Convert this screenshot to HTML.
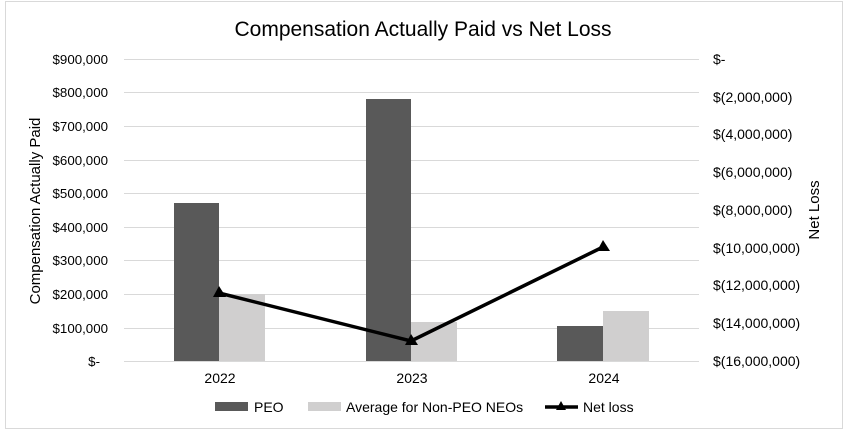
<!DOCTYPE html>
<html><head><style>body{margin:0;background:#fff}svg{display:block}</style></head><body>
<svg width="844" height="432" xmlns="http://www.w3.org/2000/svg" font-family="Liberation Sans, Arial, sans-serif">
<rect x="0" y="0" width="844" height="432" fill="#fff"/>
<rect x="5.5" y="1.5" width="837" height="427" fill="none" stroke="#d9d9d9"/>
<text x="423" y="36" font-size="21" text-anchor="middle" fill="#000">Compensation Actually Paid vs Net Loss</text>
<g stroke="#d9d9d9" stroke-width="1">
<line x1="124" x2="699" y1="59.5" y2="59.5"/><line x1="124" x2="699" y1="92.5" y2="92.5"/>
<line x1="124" x2="699" y1="126.5" y2="126.5"/><line x1="124" x2="699" y1="160.5" y2="160.5"/>
<line x1="124" x2="699" y1="193.5" y2="193.5"/><line x1="124" x2="699" y1="227.5" y2="227.5"/>
<line x1="124" x2="699" y1="260.5" y2="260.5"/><line x1="124" x2="699" y1="294.5" y2="294.5"/>
<line x1="124" x2="699" y1="328.5" y2="328.5"/><line x1="124" x2="699" y1="361.5" y2="361.5"/>
</g>
<g font-size="13.3" fill="#000" text-anchor="end">
<text x="108" y="64">$900,000</text><text x="108" y="97">$800,000</text><text x="108" y="131">$700,000</text>
<text x="108" y="165">$600,000</text><text x="108" y="198">$500,000</text><text x="108" y="232">$400,000</text>
<text x="108" y="265">$300,000</text><text x="108" y="299">$200,000</text><text x="108" y="333">$100,000</text>
<text x="100" y="366">$-</text>
</g>
<g font-size="14" fill="#000">
<text x="713" y="64">$-</text><text x="713" y="102">$(2,000,000)</text><text x="713" y="139">$(4,000,000)</text>
<text x="713" y="177">$(6,000,000)</text><text x="713" y="215">$(8,000,000)</text><text x="713" y="253">$(10,000,000)</text>
<text x="713" y="290">$(12,000,000)</text><text x="713" y="328">$(14,000,000)</text><text x="713" y="366">$(16,000,000)</text>
</g>
<text transform="translate(40,211) rotate(-90)" font-size="15" text-anchor="middle">Compensation Actually Paid</text>
<text transform="translate(819,210) rotate(-90)" font-size="15" text-anchor="middle">Net Loss</text>
<g fill="#595959">
<rect x="174" y="203" width="45" height="158"/><rect x="366" y="99" width="45" height="262"/><rect x="557" y="326" width="46" height="35"/>
</g>
<g fill="#d0cfcf">
<rect x="219" y="294" width="46" height="67"/><rect x="411" y="322" width="46" height="39"/><rect x="603" y="311" width="46" height="50"/>
</g>
<polyline points="219,293 411,341 603,247" fill="none" stroke="#000" stroke-width="3.5"/>
<g fill="#000">
<polygon points="219,286 213,297 226,297"/><polygon points="411,334 405,345 418,345"/><polygon points="603,240 597,251 610,251"/>
</g>
<g font-size="14" text-anchor="middle"><text x="220" y="383">2022</text><text x="412" y="383">2023</text><text x="604" y="383">2024</text></g>
<rect x="215" y="402" width="33" height="9" fill="#595959"/>
<text x="254" y="412" font-size="14">PEO</text>
<rect x="308" y="402" width="33" height="9" fill="#d0cfcf"/>
<text x="346" y="412" font-size="14">Average for Non-PEO NEOs</text>
<line x1="545" y1="407" x2="578" y2="407" stroke="#000" stroke-width="3.5"/>
<polygon points="561,401 556,410 566,410" fill="#000"/>
<text x="583" y="412" font-size="14">Net loss</text>
</svg>
</body></html>
